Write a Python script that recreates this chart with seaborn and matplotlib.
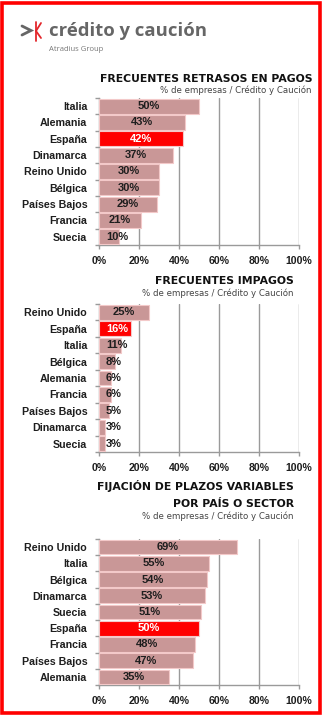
import matplotlib
matplotlib.use("Agg")
import matplotlib.pyplot as plt
import seaborn as sns
import pandas as pd
from matplotlib.patches import Rectangle
from matplotlib.lines import Line2D
from matplotlib.ticker import FixedLocator

# ---------------- data ----------------
retrasos_paises = ["Italia", "Alemania", "España", "Dinamarca", "Reino Unido",
                   "Bélgica", "Países Bajos", "Francia", "Suecia"]
retrasos_valores = [50, 43, 42, 37, 30, 30, 29, 21, 10]

impagos_paises = ["Reino Unido", "España", "Italia", "Bélgica", "Alemania",
                  "Francia", "Países Bajos", "Dinamarca", "Suecia"]
impagos_valores = [25, 16, 11, 8, 6, 6, 5, 3, 3]

plazos_paises = ["Reino Unido", "Italia", "Bélgica", "Dinamarca", "Suecia",
                 "España", "Francia", "Países Bajos", "Alemania"]
plazos_valores = [69, 55, 54, 53, 51, 50, 48, 47, 35]

x_ticks = [0, 20, 40, 60, 80, 100]
x_tick_labels = ["0%", "20%", "40%", "60%", "80%", "100%"]

titulos = ["FRECUENTES RETRASOS EN PAGOS",
           "FRECUENTES IMPAGOS",
           "FIJACIÓN DE PLAZOS VARIABLES\nPOR PAÍS O SECTOR"]
subtitulo = "% de empresas / Crédito y Caución"
destacado = "España"

# ---------------- style ----------------
sns.set_theme(style="white")
plt.rcParams["font.family"] = ["Liberation Sans", "DejaVu Sans"]

W, H = 324, 716
fig = plt.figure(figsize=(W / 100, H / 100), dpi=100)
fig.patch.set_facecolor("white")

BAR = "#C99797"
HIGHLIGHT = "#FF0000"
GRID = "#9A9A9A"
TXT = "#1E1E1E"


def px_axes(left, top, right, bottom):
    return fig.add_axes([left / W, 1 - bottom / H, (right - left) / W, (bottom - top) / H])


def fy(y):
    return 1 - y / H


def panel(ax, paises, valores):
    df = pd.DataFrame({"pais": paises, "valor": valores})
    colors = [HIGHLIGHT if p == destacado else BAR for p in paises]
    sns.barplot(data=df, x="valor", y="pais", hue="pais", palette=colors,
                saturation=1, legend=False, orient="h", width=0.9, ax=ax,
                edgecolor="#F3C9C9", linewidth=0.8, zorder=3)
    ax.set_xlim(0, 100)
    ax.set_ylim(len(paises) - 0.5, -0.5)
    ax.set_xlabel("")
    ax.set_ylabel("")
    ax.set_xticks(x_ticks)
    ax.set_xticklabels(x_tick_labels)
    ax.grid(axis="x", color=GRID, linewidth=1.0, zorder=0)
    ax.grid(axis="y", visible=False)
    for s in ["top", "right"]:
        ax.spines[s].set_visible(False)
    for s in ["left", "bottom"]:
        ax.spines[s].set_color(GRID)
        ax.spines[s].set_linewidth(1.0)
    ax.tick_params(axis="x", which="major", bottom=True, length=3, width=1,
                   color=GRID, pad=5, labelsize=7.6, labelcolor=TXT)
    ax.tick_params(axis="y", which="major", left=False, length=0, pad=8.5,
                   labelsize=7.7, labelcolor=TXT)
    ax.yaxis.set_minor_locator(FixedLocator([i - 0.5 for i in range(len(paises) + 1)]))
    ax.tick_params(axis="y", which="minor", left=True, length=3, width=1, color=GRID)
    for lab in ax.get_xticklabels() + ax.get_yticklabels():
        lab.set_fontweight("bold")
    # value labels: centred in the bar, but never starting before ~3.5 %
    min_left = 3.5
    for i, (p, v) in enumerate(zip(paises, valores)):
        label = f"{v}%"
        half = 5.5 if v >= 10 else 4.0
        col = "white" if p == destacado else TXT
        if v / 2 - half < min_left:
            ax.text(min_left, i, label, ha="left", va="center", fontsize=8,
                    fontweight="bold", color=col, zorder=5)
        else:
            ax.text(v / 2, i, label, ha="center", va="center", fontsize=8,
                    fontweight="bold", color=col, zorder=5)


ax1 = px_axes(99, 98, 299, 245)
panel(ax1, retrasos_paises, retrasos_valores)
ax2 = px_axes(99, 304, 299, 452)
panel(ax2, impagos_paises, impagos_valores)
ax3 = px_axes(99, 539, 299, 685)
panel(ax3, plazos_paises, plazos_valores)

# ---------------- titles ----------------
TFONT = ["DejaVu Sans"]
TS = 7.8
SS = 6.2
fig.text(312 / W, fy(82), titulos[0], ha="right", va="baseline", fontsize=TS,
         fontweight="bold", family=TFONT, color="#111111")
fig.text(311 / W, fy(93), subtitulo, ha="right", va="baseline", fontsize=SS,
         family=TFONT, color="#444444")

fig.text(294 / W, fy(284), titulos[1], ha="right", va="baseline", fontsize=TS,
         fontweight="bold", family=TFONT, color="#111111")
fig.text(294 / W, fy(296), subtitulo, ha="right", va="baseline", fontsize=SS,
         family=TFONT, color="#444444")

l1, l2 = titulos[2].split("\n")
fig.text(294 / W, fy(490), l1, ha="right", va="baseline", fontsize=TS,
         fontweight="bold", family=TFONT, color="#111111")
fig.text(294 / W, fy(507), l2, ha="right", va="baseline", fontsize=TS,
         fontweight="bold", family=TFONT, color="#111111")
fig.text(294 / W, fy(519), subtitulo, ha="right", va="baseline", fontsize=SS,
         family=TFONT, color="#444444")

# ---------------- logo ----------------
fig.text(49 / W, fy(36), "crédito y caución", ha="left", va="baseline",
         fontsize=13.3, fontweight="bold", family=["Open Sans", "DejaVu Sans"],
         color="#666666")
fig.text(49 / W, fy(51), "Atradius Group", ha="left", va="baseline",
         fontsize=5.5, family=["Open Sans", "DejaVu Sans"], color="#777777")
gray = "#666666"
fig.add_artist(Line2D([22 / W, 31 / W, 22 / W], [fy(26), fy(30.5), fy(35)],
                      color=gray, linewidth=2.0, solid_joinstyle="miter"))
red = "#E3262B"
fig.add_artist(Line2D([36 / W, 36 / W], [fy(22), fy(41)], color=red, linewidth=1.3))
fig.add_artist(Line2D([36 / W, 41 / W], [fy(31), fy(23)], color=red, linewidth=1.3))
fig.add_artist(Line2D([36 / W, 41 / W], [fy(31), fy(38)], color=red, linewidth=1.3))

# ---------------- border ----------------
fig.add_artist(Rectangle((2.2 / W, fy(713)), (320 - 2.2) / W, (713 - 2.5) / H,
                         fill=False, edgecolor="#FF0000", linewidth=2.6,
                         transform=fig.transFigure))

fig.savefig("out.png", dpi=100, facecolor="white")
